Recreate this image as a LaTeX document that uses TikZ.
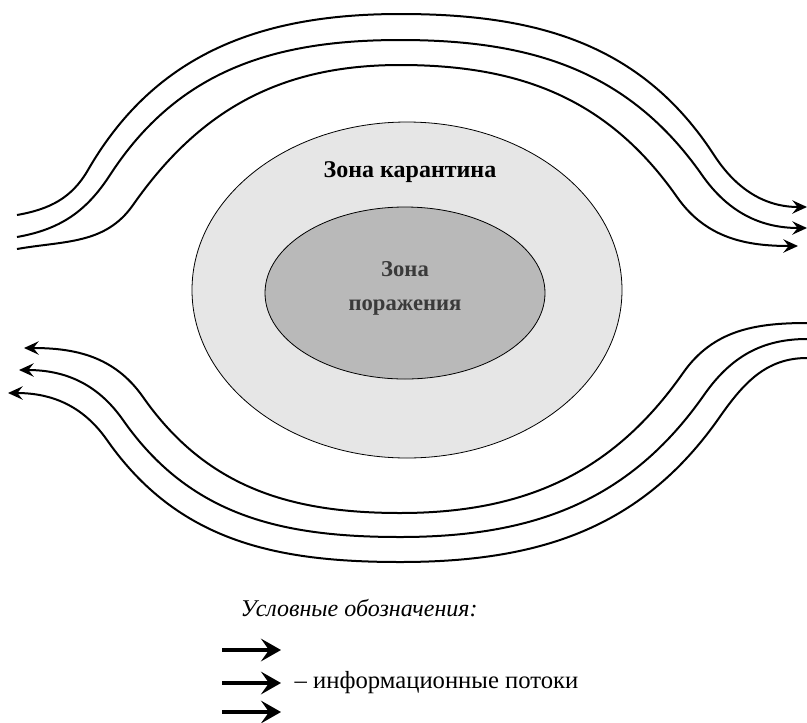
\documentclass[tikz,border=0pt]{standalone}
\usepackage{fontspec}
\setmainfont{Liberation Serif}
\usetikzlibrary{arrows.meta}
\definecolor{outerfill}{HTML}{E6E6E6}
\definecolor{innerfill}{HTML}{B9B9B9}
\definecolor{innertext}{HTML}{3A3A3A}
\tikzset{
  flow/.style={line width=1.5pt,-{Stealth[length=11pt,width=10pt,inset=4pt]}},
  legendarrow/.style={line width=3pt,-{Stealth[length=15pt,width=17pt,inset=6pt]}},
  zone/.style={draw=black,line width=0.6pt}
}
\begin{document}
\begin{tikzpicture}[x=0.75pt,y=-0.75pt]
\useasboundingbox (0,0) rectangle (807,722);
% zones
\draw[zone,fill=outerfill] (407,290) ellipse [x radius=215,y radius=168];
\draw[zone,fill=innerfill] (405,293) ellipse [x radius=140,y radius=86];
\node[font=\fontsize{18pt}{20pt}\selectfont\bfseries] (kar) at (410,172) {Зона карантина};
\node[font=\fontsize{17pt}{25.5pt}\selectfont\bfseries,text=innertext,align=center] (por) at (405,288) {Зона\\поражения};
% top flows
\coordinate (t1s) at (17,215); \coordinate (t1e) at (807,207);
\coordinate (t2s) at (17,237); \coordinate (t2e) at (807,228);
\coordinate (t3s) at (17,249); \coordinate (t3e) at (798,246);
\draw[flow] (t1s) to[out=10,in=240] (88,170) to[out=60,in=180] (400,14) to[out=0,in=123] (714,155) to[out=-57,in=180] (t1e);
\draw[flow] (t2s) to[out=10,in=237] (110,175) to[out=57,in=180] (400,40) to[out=0,in=125] (702,175) to[out=-55,in=180] (t2e);
\draw[flow] (t3s) to[out=10,in=235] (133,205) to[out=55,in=180] (400,65) to[out=0,in=125] (677,197) to[out=-55,in=180] (t3e);
% bottom flows
\coordinate (b1s) at (807,323); \coordinate (b1e) at (24,348);
\coordinate (b2s) at (807,339); \coordinate (b2e) at (19,370);
\coordinate (b3s) at (807,358); \coordinate (b3e) at (8,393);
\draw[flow] (b1s) to[out=180,in=55] (683,373) to[out=235,in=0] (400,513) to[out=180,in=-55] (143,397) to[out=125,in=0] (b1e);
\draw[flow] (b2s) to[out=180,in=55] (704,395) to[out=235,in=0] (400,537) to[out=180,in=-55] (123,420) to[out=125,in=0] (b2e);
\draw[flow] (b3s) to[out=180,in=55] (719,418) to[out=235,in=0] (400,562) to[out=180,in=-55] (107,440) to[out=125,in=0] (b3e);
% legend
\node[font=\fontsize{18pt}{20pt}\selectfont\itshape,anchor=west] (leg) at (236,608) {Условные обозначения:};
\coordinate (l1a) at (222,650); \coordinate (l1b) at (281,650);
\coordinate (l2a) at (222,683); \coordinate (l2b) at (281,683);
\coordinate (l3a) at (222,712); \coordinate (l3b) at (281,712);
\draw[legendarrow] (l1a) -- (l1b);
\draw[legendarrow] (l2a) -- (l2b);
\draw[legendarrow] (l3a) -- (l3b);
\node[font=\fontsize{18.5pt}{20pt}\selectfont,anchor=west] (info) at (290,683) {– информационные потоки};
\end{tikzpicture}
\end{document}
